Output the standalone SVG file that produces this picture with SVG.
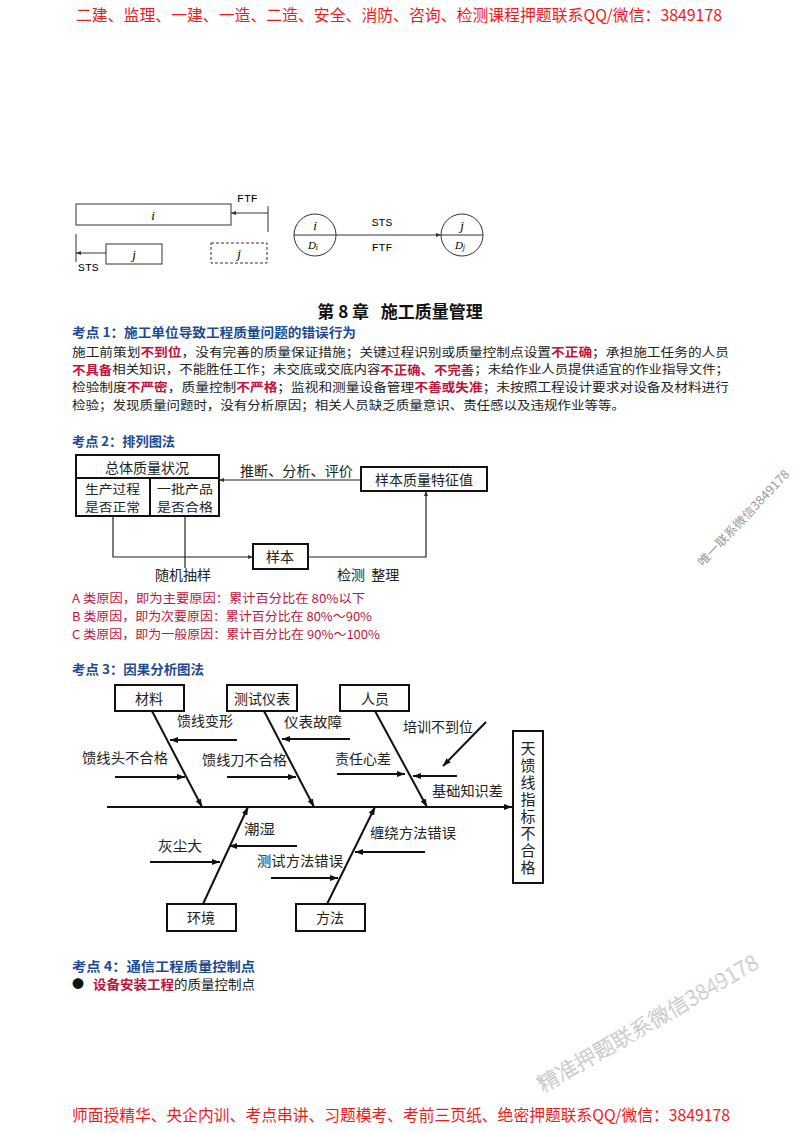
<svg xmlns="http://www.w3.org/2000/svg" width="800" height="1132" viewBox="0 0 800 1132">
<style>
.cjk{font-family:"Noto Sans CJK SC","Liberation Sans",sans-serif;}
.mono{font-family:"Liberation Mono","DejaVu Sans Mono",monospace;}
.ital{font-family:"Liberation Serif",serif;font-style:italic;}
.hdr{font-size:16px;fill:#f01c1c;}
.blue{font-size:13px;font-weight:bold;fill:#1d4a94;}
.body{font-size:12px;fill:#222;}
.red{fill:#c0143c;font-weight:bold;}
.pink{font-size:12px;fill:#c0143c;}
.lbl{font-size:14px;fill:#222;}
.lbl2{font-size:12px;fill:#222;}
.box{fill:#fff;stroke:#111;stroke-width:2;}
.thin{fill:none;stroke:#333;stroke-width:1;}
.ln{fill:none;stroke:#222;stroke-width:1.2;}
.bone{fill:none;stroke:#111;stroke-width:2;}
.wm{fill:#f4f4f4;stroke:#a0a0a0;stroke-width:0.35;}
</style>
<defs>
<marker id="ah" markerWidth="8" markerHeight="6" refX="8" refY="3" orient="auto" markerUnits="userSpaceOnUse"><path d="M0,0 L8,3 L0,6 z" fill="#111"/></marker>
<marker id="sm" markerWidth="5" markerHeight="4" refX="5" refY="2" orient="auto" markerUnits="userSpaceOnUse"><path d="M0,0 L5,2 L0,4 z" fill="#333"/></marker>
</defs>
<rect width="800" height="1132" fill="#fff"/>

<g id="header"><text class="cjk hdr" x="76" y="14" dominant-baseline="central" textLength="646" lengthAdjust="spacingAndGlyphs">二建、监理、一建、一造、二造、安全、消防、咨询、检测课程押题联系QQ/微信：3849178</text></g>

<!-- top diagram -->
<g id="bar-i"><rect class="thin" x="76" y="204" width="155" height="21"/><text class="ital" x="153" y="215" font-size="13" text-anchor="middle" dominant-baseline="central">i</text></g>
<g id="bar-j"><rect class="thin" x="106" y="244" width="56" height="20"/><text class="ital" x="134" y="254" font-size="13" text-anchor="middle" dominant-baseline="central">j</text></g>
<g id="bar-j-dashed"><rect class="thin" x="211" y="243" width="56" height="20" stroke-dasharray="3,2"/><text class="ital" x="239" y="253" font-size="13" text-anchor="middle" dominant-baseline="central">j</text></g>
<g id="node-i"><circle class="thin" cx="315" cy="235" r="21"/><line class="thin" x1="294" y1="235" x2="336" y2="235"/><text class="ital" x="315" y="225" font-size="13" text-anchor="middle" dominant-baseline="central">i</text><text class="ital" x="313" y="245" font-size="11" text-anchor="middle" dominant-baseline="central">D<tspan font-size="8" dy="2">i</tspan></text></g>
<g id="node-j"><circle class="thin" cx="462" cy="235" r="21"/><line class="thin" x1="441" y1="235" x2="483" y2="235"/><text class="ital" x="462" y="225" font-size="13" text-anchor="middle" dominant-baseline="central">j</text><text class="ital" x="460" y="245" font-size="11" text-anchor="middle" dominant-baseline="central">D<tspan font-size="8" dy="2">j</tspan></text></g>
<g id="top-connectors">
<line class="thin" x1="268" y1="206" x2="268" y2="232"/>
<line class="thin" x1="268" y1="213" x2="231" y2="213" marker-end="url(#sm)"/>
<text class="mono" x="237" y="198" font-size="11.5" dominant-baseline="central">FTF</text>
<line class="thin" x1="76" y1="234" x2="76" y2="262"/>
<line class="thin" x1="106" y1="253" x2="76" y2="253" marker-end="url(#sm)"/>
<text class="mono" x="78" y="267" font-size="11.5" dominant-baseline="central">STS</text>
<line class="thin" x1="336" y1="235" x2="441" y2="235" marker-end="url(#sm)"/>
<text class="mono" x="382" y="222" font-size="11.5" text-anchor="middle" dominant-baseline="central">STS</text>
<text class="mono" x="382" y="247" font-size="11.5" text-anchor="middle" dominant-baseline="central">FTF</text>
</g>

<g id="title"><text class="cjk" x="400" y="310" font-size="17" font-weight="bold" fill="#111" text-anchor="middle" dominant-baseline="central" xml:space="preserve">第 8 章   施工质量管理</text></g>

<g id="kp1">
<text class="cjk blue" x="72" y="331" dominant-baseline="central" textLength="284" lengthAdjust="spacingAndGlyphs">考点 1：施工单位导致工程质量问题的错误行为</text>
<text class="cjk body" x="72" y="351" dominant-baseline="central" textLength="657" lengthAdjust="spacingAndGlyphs">施工前策划<tspan class="red">不到位</tspan>，没有完善的质量保证措施；关键过程识别或质量控制点设置<tspan class="red">不正确</tspan>；承担施工任务的人员</text>
<text class="cjk body" x="72" y="368.5" dominant-baseline="central" textLength="657" lengthAdjust="spacingAndGlyphs"><tspan class="red">不具备</tspan>相关知识，不能胜任工作；未交底或交底内容<tspan class="red">不正确、不完善</tspan>；未给作业人员提供适宜的作业指导文件；</text>
<text class="cjk body" x="72" y="386" dominant-baseline="central" textLength="657" lengthAdjust="spacingAndGlyphs">检验制度<tspan class="red">不严密</tspan>，质量控制<tspan class="red">不严格</tspan>；监视和测量设备管理<tspan class="red">不善或失准</tspan>；未按照工程设计要求对设备及材料进行</text>
<text class="cjk body" x="72" y="404" dominant-baseline="central" textLength="553" lengthAdjust="spacingAndGlyphs">检验；发现质量问题时，没有分析原因；相关人员缺乏质量意识、责任感以及违规作业等等。</text>
</g>

<g id="kp2-title"><text class="cjk blue" x="72" y="440" dominant-baseline="central" textLength="103" lengthAdjust="spacingAndGlyphs">考点 2：排列图法</text></g>

<g id="pop-box">
<rect class="box" x="76" y="455" width="143" height="61"/>
<line class="bone" x1="76" y1="478" x2="219" y2="478"/>
<line class="bone" x1="150" y1="478" x2="150" y2="516"/>
<text class="cjk lbl" x="147" y="467" text-anchor="middle" dominant-baseline="central">总体质量状况</text>
<text class="cjk lbl2" x="85" y="488" dominant-baseline="central" textLength="55" lengthAdjust="spacingAndGlyphs">生产过程</text>
<text class="cjk lbl2" x="85" y="506.5" dominant-baseline="central" textLength="55" lengthAdjust="spacingAndGlyphs">是否正常</text>
<text class="cjk lbl2" x="157" y="488" dominant-baseline="central" textLength="56" lengthAdjust="spacingAndGlyphs">一批产品</text>
<text class="cjk lbl2" x="157" y="506.5" dominant-baseline="central" textLength="56" lengthAdjust="spacingAndGlyphs">是否合格</text>
</g>
<g id="feature-box"><rect class="box" x="361" y="467" width="126" height="24"/><text class="cjk lbl" x="424" y="479" text-anchor="middle" dominant-baseline="central">样本质量特征值</text></g>
<g id="sample-box"><rect class="box" x="253" y="544" width="55" height="25"/><text class="cjk lbl" x="280" y="556" text-anchor="middle" dominant-baseline="central">样本</text></g>
<g id="kp2-connectors">
<line class="ln" x1="361" y1="480" x2="219" y2="480" marker-end="url(#sm)"/>
<polyline class="ln" points="113,516 113,557 253,557" marker-end="url(#sm)"/>
<line class="ln" x1="185" y1="516" x2="185" y2="568"/>
<polyline class="ln" points="308,557 426,557 426,491" marker-end="url(#sm)"/>
<text class="cjk lbl" x="240" y="470" dominant-baseline="central" textLength="113" lengthAdjust="spacingAndGlyphs">推断、分析、评价</text>
<text class="cjk lbl" x="183" y="574" text-anchor="middle" dominant-baseline="central">随机抽样</text>
<text class="cjk lbl" x="337" y="574" dominant-baseline="central" xml:space="preserve">检测  整理</text>
</g>

<g id="abc">
<text class="cjk pink" x="72" y="597" dominant-baseline="central" textLength="293" lengthAdjust="spacingAndGlyphs">A 类原因，即为主要原因：累计百分比在 80%以下</text>
<text class="cjk pink" x="72" y="615" dominant-baseline="central" textLength="300" lengthAdjust="spacingAndGlyphs">B 类原因，即为次要原因：累计百分比在 80%～90%</text>
<text class="cjk pink" x="72" y="633" dominant-baseline="central" textLength="308" lengthAdjust="spacingAndGlyphs">C 类原因，即为一般原因：累计百分比在 90%～100%</text>
</g>

<g id="kp3-title"><text class="cjk blue" x="72" y="668" dominant-baseline="central" textLength="132" lengthAdjust="spacingAndGlyphs">考点 3：因果分析图法</text></g>

<g id="fb-cailiao"><rect class="box" x="115" y="685" width="69" height="26"/><text class="cjk lbl" x="149" y="698" text-anchor="middle" dominant-baseline="central">材料</text></g>
<g id="fb-yibiao"><rect class="box" x="227" y="685" width="70" height="26"/><text class="cjk lbl" x="262" y="698" text-anchor="middle" dominant-baseline="central">测试仪表</text></g>
<g id="fb-renyuan"><rect class="box" x="340" y="685" width="69" height="26"/><text class="cjk lbl" x="375" y="698" text-anchor="middle" dominant-baseline="central">人员</text></g>
<g id="fb-huanjing"><rect class="box" x="167" y="904" width="69" height="27"/><text class="cjk lbl" x="201" y="917" text-anchor="middle" dominant-baseline="central">环境</text></g>
<g id="fb-fangfa"><rect class="box" x="296" y="904" width="69" height="27"/><text class="cjk lbl" x="330" y="917" text-anchor="middle" dominant-baseline="central">方法</text></g>
<g id="fb-result"><rect class="box" x="513" y="731" width="30" height="152"/>
<text class="cjk" x="528" y="741" font-size="15" fill="#222" writing-mode="vertical-rl" letter-spacing="2">天馈线指标不合格</text></g>

<g id="fb-connectors">
<line class="bone" x1="107" y1="807" x2="512" y2="807" marker-end="url(#ah)"/>
<line class="bone" x1="152" y1="711" x2="202" y2="807" marker-end="url(#ah)"/>
<line class="bone" x1="264" y1="711" x2="314" y2="807" marker-end="url(#ah)"/>
<line class="bone" x1="375" y1="711" x2="427" y2="807" marker-end="url(#ah)"/>
<line class="bone" x1="203" y1="904" x2="248" y2="807" marker-end="url(#ah)"/>
<line class="bone" x1="327" y1="904" x2="375" y2="807" marker-end="url(#ah)"/>
<line class="bone" x1="237" y1="740" x2="170" y2="740" marker-end="url(#ah)"/>
<line class="bone" x1="115" y1="777" x2="185" y2="777" marker-end="url(#ah)"/>
<line class="bone" x1="227" y1="777" x2="296" y2="777" marker-end="url(#ah)"/>
<line class="bone" x1="350" y1="739" x2="282" y2="739" marker-end="url(#ah)"/>
<line class="bone" x1="337" y1="774" x2="405" y2="774" marker-end="url(#ah)"/>
<line class="bone" x1="486" y1="722" x2="443" y2="766" marker-end="url(#ah)"/>
<line class="bone" x1="457" y1="776" x2="413" y2="776" marker-end="url(#ah)"/>
<line class="bone" x1="297" y1="846" x2="229" y2="846" marker-end="url(#ah)"/>
<line class="bone" x1="150" y1="862" x2="220" y2="862" marker-end="url(#ah)"/>
<line class="bone" x1="271" y1="878" x2="338" y2="878" marker-end="url(#ah)"/>
<line class="bone" x1="425" y1="852" x2="355" y2="852" marker-end="url(#ah)"/>
<text class="cjk lbl" x="177" y="720" dominant-baseline="central" textLength="56" lengthAdjust="spacingAndGlyphs">馈线变形</text>
<text class="cjk lbl" x="82" y="757" dominant-baseline="central" textLength="86" lengthAdjust="spacingAndGlyphs">馈线头不合格</text>
<text class="cjk lbl" x="202" y="759" dominant-baseline="central" textLength="85" lengthAdjust="spacingAndGlyphs">馈线刀不合格</text>
<text class="cjk lbl" x="284" y="721" dominant-baseline="central" textLength="58" lengthAdjust="spacingAndGlyphs">仪表故障</text>
<text class="cjk lbl" x="335" y="758" dominant-baseline="central" textLength="56" lengthAdjust="spacingAndGlyphs">责任心差</text>
<text class="cjk lbl" x="403" y="726" dominant-baseline="central" textLength="70" lengthAdjust="spacingAndGlyphs">培训不到位</text>
<text class="cjk lbl" x="432" y="790" dominant-baseline="central" textLength="71" lengthAdjust="spacingAndGlyphs">基础知识差</text>
<text class="cjk lbl" x="244" y="828" dominant-baseline="central" textLength="31" lengthAdjust="spacingAndGlyphs">潮湿</text>
<text class="cjk lbl" x="158" y="845" dominant-baseline="central" textLength="44" lengthAdjust="spacingAndGlyphs">灰尘大</text>
<text class="cjk lbl" x="257" y="860" dominant-baseline="central" textLength="86" lengthAdjust="spacingAndGlyphs">测试方法错误</text>
<text class="cjk lbl" x="370" y="832" dominant-baseline="central" textLength="86" lengthAdjust="spacingAndGlyphs">缠绕方法错误</text>
</g>

<g id="kp4">
<text class="cjk blue" x="72" y="965" dominant-baseline="central" textLength="183" lengthAdjust="spacingAndGlyphs">考点 4：通信工程质量控制点</text>
<text class="cjk" x="72" y="983" font-size="12" fill="#111" dominant-baseline="central">●</text>
<text class="cjk" x="93" y="983" font-size="13" fill="#222" dominant-baseline="central" textLength="162" lengthAdjust="spacingAndGlyphs"><tspan class="red">设备安装工程</tspan>的质量控制点</text>
</g>

<g id="watermarks">
<text class="cjk" x="703" y="567" font-size="12" fill="#9a9a9a" transform="rotate(-46.6 703 567)" textLength="127" lengthAdjust="spacingAndGlyphs">唯一联系微信3849178</text>
<text class="cjk wm" x="543" y="1093" font-size="21" font-weight="300" transform="rotate(-30.1 543 1093)" textLength="251" lengthAdjust="spacingAndGlyphs">精准押题联系微信3849178</text>
</g>

<g id="footer"><text class="cjk hdr" x="72" y="1114" dominant-baseline="central" textLength="658" lengthAdjust="spacingAndGlyphs">师面授精华、央企内训、考点串讲、习题模考、考前三页纸、绝密押题联系QQ/微信：3849178</text></g>
</svg>
